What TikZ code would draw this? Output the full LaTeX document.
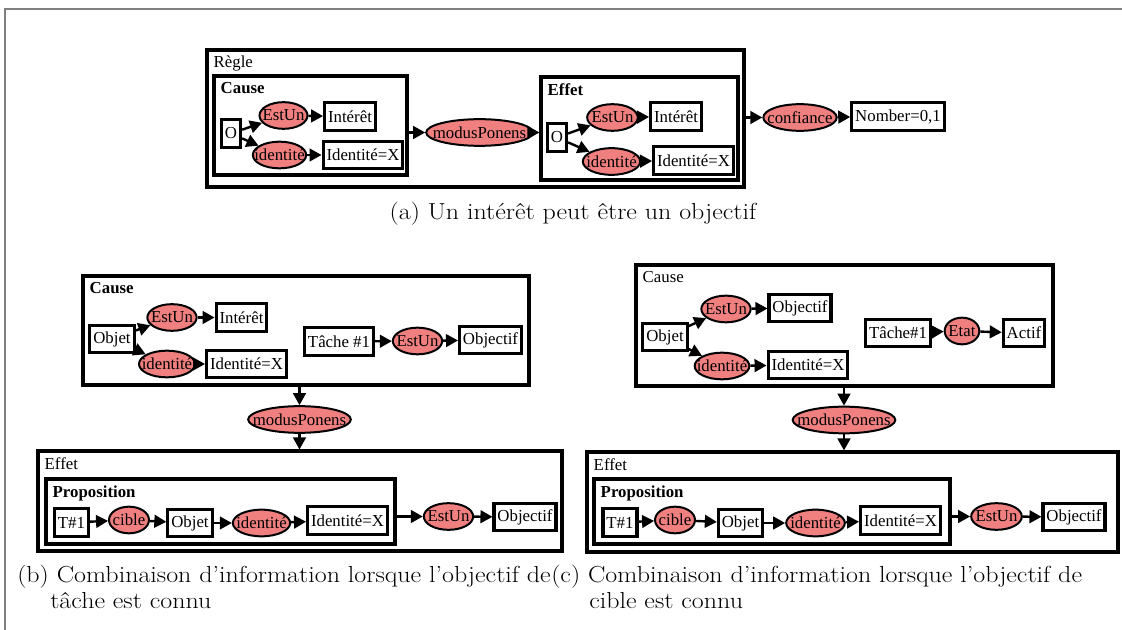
\documentclass[tikz,border=0pt]{standalone}
\usepackage{fontspec}
\newfontfamily\diagfont{Liberation Serif}
\newfontfamily\captfont[FakeStretch=1.12]{Latin Modern Roman}
\usetikzlibrary{arrows.meta,shapes.geometric,fit}
\definecolor{relpink}{RGB}{240,128,128}
\tikzset{
  concept/.style={draw, line width=2.3pt, fill=white, inner xsep=2.6pt, inner ysep=0pt, minimum height=20.5pt},
  rel/.style={ellipse, draw, line width=1.5pt, fill=relpink, inner xsep=-30pt, inner ysep=-10pt, minimum height=20pt},
  frame/.style={draw, line width=2.3pt, inner sep=0pt},
  lab/.style={anchor=north west, inner sep=0pt},
  link/.style={->, line width=1.8pt},
  capt/.style={anchor=base west, inner sep=0pt, font=\captfont\fontsize{17.4}{21}\selectfont},
}
\begin{document}
\begin{tikzpicture}[x=0.75pt, y=-0.75pt, >={Triangle[length=9pt,width=9.5pt]}, font=\diagfont\fontsize{12.6}{14}\selectfont]
\useasboundingbox (0,0) rectangle (1122,630);
\draw[gray, line width=1pt] (1122,9) -- (5,9) -- (5,630);

% (a)
\node[frame, fit={(207,50) (744,187)}] (regle) {};
\node[lab] (reglelab) at ([shift={(6pt,-5pt)}]regle.north west) {Règle};
\node[frame, fit={(214,76) (407,175)}] (acause) {};
\node[lab] (acauselab) at ([shift={(6pt,-6pt)}]acause.north west) {\textbf{Cause}};
\node[frame, fit={(541,77) (738,180)}] (aeffet) {};
\node[lab] (aeffetlab) at ([shift={(6pt,-6pt)}]aeffet.north west) {\textbf{Effet}};

\node[concept] (aO1) at (231,133.5) {O};
\node[rel, minimum width=36pt] (aEstUn1) at (283.5,115.5) {EstUn};
\node[concept] (aInteret1) at (350,116.5) {Intérêt};
\node[rel, minimum width=40pt] (aIdent1) at (279.5,155) {identité};
\node[concept] (aIdentX1) at (363,155) {Identité=X};
\node[rel, minimum width=80pt] (aMP) at (479.5,132.5) {modusPonens};
\node[concept] (aO2) at (557,137.5) {O};
\node[rel, minimum width=38pt] (aEstUn2) at (612.5,117.5) {EstUn};
\node[concept] (aInteret2) at (676,116.5) {Intérêt};
\node[rel, minimum width=43pt] (aIdent2) at (611.5,161.5) {identité};
\node[concept] (aIdentX2) at (693.5,160.5) {Identité=X};
\node[rel, minimum width=55pt] (aConf) at (800,117.5) {confiance};
\node[concept] (aNombre) at (898,116.5) {Nomber=0,1};

\draw[link] (aO1) -- (aEstUn1);
\draw[link] (aO1) -- (aIdent1);
\draw[link] (aEstUn1) -- (aInteret1);
\draw[link] (aIdent1) -- (aIdentX1);
\draw[link] (acause.east |- aMP) -- (aMP);
\draw[link] (aMP) -- (aeffet.west |- aMP);
\draw[link] (aO2) -- (aEstUn2);
\draw[link] (aO2) -- (aIdent2);
\draw[link] (aEstUn2) -- (aInteret2);
\draw[link] (aIdent2) -- (aIdentX2);
\draw[link] (regle.east |- aConf) -- (aConf);
\draw[link] (aConf) -- (aNombre);

\node[capt, anchor=base] (capa) at (573,220) {(a) Un intérêt peut être un objectif};

% (b)
\node[frame, fit={(83,276) (529,385)}] (bcause) {};
\node[lab] (bcauselab) at ([shift={(6pt,-6pt)}]bcause.north west) {\textbf{Cause}};
\node[concept] (bObjet1) at (112,339) {Objet};
\node[rel, minimum width=37pt] (bEstUn1) at (172,317.5) {EstUn};
\node[concept] (bInteret) at (241.5,317.5) {Intérêt};
\node[rel, minimum width=42pt] (bIdent1) at (167,364) {identité};
\node[concept] (bIdentX1) at (246.5,364) {Identité=X};
\node[concept] (bTache) at (339,341.5) {Tâche \#1};
\node[rel, minimum width=37pt] (bEstUn2) at (417.5,341) {EstUn};
\node[concept] (bObjectif1) at (490.5,340) {Objectif};
\node[rel, minimum width=77pt] (bMP) at (299.5,419.5) {modusPonens};

\node[frame, fit={(38,451) (562,551)}] (beffet) {};
\node[lab] (beffetlab) at ([shift={(6pt,-6pt)}]beffet.north west) {Effet};
\node[frame, fit={(46,479) (395,544)}] (bprop) {};
\node[lab] (bproplab) at ([shift={(6pt,-6pt)}]bprop.north west) {\textbf{Proposition}};
\node[concept] (bT) at (71.5,522.5) {T\#1};
\node[rel, minimum width=30pt] (bCible) at (129,520) {cible};
\node[concept] (bObjet2) at (190,523) {Objet};
\node[rel, minimum width=43pt] (bIdent2) at (261.5,523) {identité};
\node[concept] (bIdentX2) at (347.5,520.5) {Identité=X};
\node[rel, minimum width=37pt] (bEstUn3) at (448.5,516.5) {EstUn};
\node[concept] (bObjectif2) at (525,517) {Objectif};

\draw[link] (bObjet1) -- (bEstUn1);
\draw[link] (bObjet1) -- (bIdent1);
\draw[link] (bEstUn1) -- (bInteret);
\draw[link] (bIdent1) -- (bIdentX1);
\draw[link] (bTache) -- (bEstUn2);
\draw[link] (bEstUn2) -- (bObjectif1);
\draw[link] (bcause.south -| bMP) -- (bMP);
\draw[link] (bMP) -- (bMP |- beffet.north);
\draw[link] (bT) -- (bCible);
\draw[link] (bCible) -- (bObjet2);
\draw[link] (bObjet2) -- (bIdent2);
\draw[link] (bIdent2) -- (bIdentX2);
\draw[link] (bprop.east |- bEstUn3) -- (bEstUn3);
\draw[link] (bEstUn3) -- (bObjectif2);

% (c)
\node[frame, fit={(636,265) (1053,386)}] (ccause) {};
\node[lab] (ccauselab) at ([shift={(6pt,-6pt)}]ccause.north west) {Cause};
\node[concept] (cObjet1) at (665,337) {Objet};
\node[rel, minimum width=37pt] (cEstUn1) at (726,309) {EstUn};
\node[concept] (cObjectif1) at (800,308) {Objectif};
\node[rel, minimum width=41pt] (cIdent1) at (722,366) {identité};
\node[concept] (cIdentX1) at (808,365) {Identité=X};
\node[concept] (cTache) at (898,333) {Tâche\#1};
\node[rel, minimum width=26pt] (cEtat) at (962,331) {Etat};
\node[concept] (cActif) at (1024,333) {Actif};
\node[rel, minimum width=77pt] (cMP) at (844,420) {modusPonens};

\node[frame, fit={(587,452) (1118,552)}] (ceffet) {};
\node[lab] (ceffetlab) at ([shift={(6pt,-6pt)}]ceffet.north west) {Effet};
\node[frame, fit={(594,479) (950,544)}] (cprop) {};
\node[lab] (cproplab) at ([shift={(6pt,-6pt)}]cprop.north west) {\textbf{Proposition}};
\node[concept] (cT) at (620,522.5) {T\#1};
\node[rel, minimum width=30pt] (cCible) at (675,520) {cible};
\node[concept] (cObjet2) at (740.5,523) {Objet};
\node[rel, minimum width=44pt] (cIdent2) at (815.5,523) {identité};
\node[concept] (cIdentX2) at (900.5,520.5) {Identité=X};
\node[rel, minimum width=38pt] (cEstUn2) at (996.5,516.5) {EstUn};
\node[concept] (cObjectif2) at (1074,517) {Objectif};

\draw[link] (cObjet1) -- (cEstUn1);
\draw[link] (cObjet1) -- (cIdent1);
\draw[link] (cEstUn1) -- (cObjectif1);
\draw[link] (cIdent1) -- (cIdentX1);
\draw[link] (cTache) -- (cEtat);
\draw[link] (cEtat) -- (cActif);
\draw[link] (ccause.south -| cMP) -- (cMP);
\draw[link] (cMP) -- (cMP |- ceffet.north);
\draw[link] (cT) -- (cCible);
\draw[link] (cCible) -- (cObjet2);
\draw[link] (cObjet2) -- (cIdent2);
\draw[link] (cIdent2) -- (cIdentX2);
\draw[link] (cprop.east |- cEstUn2) -- (cEstUn2);
\draw[link] (cEstUn2) -- (cObjectif2);

\node[capt] (capb1) at (17,583) {(b) Combinaison d’information lorsque l’objectif de};
\node[capt] (capb2) at (50,609) {tâche est connu};
\node[capt] (capc1) at (551,583) {(c) Combinaison d’information lorsque l’objectif de};
\node[capt] (capc2) at (589,609) {cible est connu};
\end{tikzpicture}
\end{document}
